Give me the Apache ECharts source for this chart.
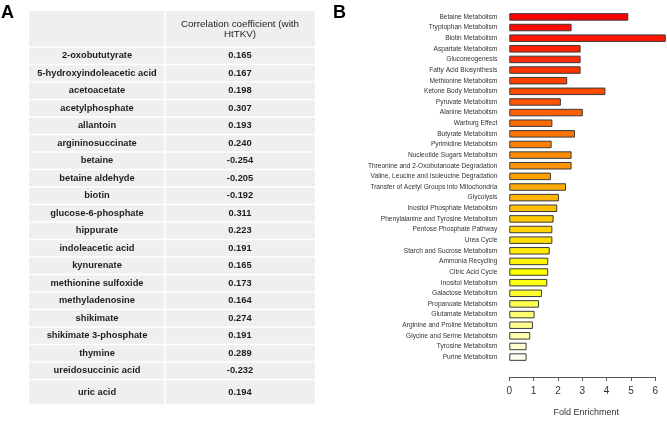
<!DOCTYPE html>
<html>
<head>
<meta charset="utf-8">
<script src="https://cdn.jsdelivr.net/npm/echarts@6/dist/echarts.min.js"></script>
<style>
  html, body { margin: 0; padding: 0; background: #fff; }
  #chart { width: 667px; height: 422px; }
</style>
</head>
<body>
<div id="chart"></div>
<script>
// panel A: metabolites and their correlation with HtTKV
const metabolites = [
  '2-oxobututyrate', '5-hydroxyindoleacetic acid', 'acetoacetate', 'acetylphosphate',
  'allantoin', 'argininosuccinate', 'betaine', 'betaine aldehyde', 'biotin',
  'glucose-6-phosphate', 'hippurate', 'indoleacetic acid', 'kynurenate',
  'methionine sulfoxide', 'methyladenosine', 'shikimate', 'shikimate 3-phosphate',
  'thymine', 'ureidosuccinic acid', 'uric acid'
];
const correlations = [
  '0.165', '0.167', '0.198', '0.307', '0.193', '0.240', '-0.254', '-0.205', '-0.192',
  '0.311', '0.223', '0.191', '0.165', '0.173', '0.164', '0.274', '0.191', '0.289',
  '-0.232', '0.194'
];
const headerLines = ['Correlation coefficient (with', 'HtTKV)'];

// panel B: pathway enrichment
const pathways = [
  'Betaine Metabolism', 'Tryptophan Metabolism', 'Biotin Metabolism', 'Aspartate Metabolism',
  'Gluconeogenesis', 'Fatty Acid Biosynthesis', 'Methionine Metabolism', 'Ketone Body Metabolism',
  'Pyruvate Metabolism', 'Alanine Metabolism', 'Warburg Effect', 'Butyrate Metabolism',
  'Pyrimidine Metabolism', 'Nucleotide Sugars Metabolism', 'Threonine and 2-Oxobutanoate Degradation',
  'Valine, Leucine and Isoleucine Degradation', 'Transfer of Acetyl Groups into Mitochondria',
  'Glycolysis', 'Inositol Phosphate Metabolism', 'Phenylalanine and Tyrosine Metabolism',
  'Pentose Phosphate Pathway', 'Urea Cycle', 'Starch and Sucrose Metabolism', 'Ammonia Recycling',
  'Citric Acid Cycle', 'Inositol Metabolism', 'Galactose Metabolism', 'Propanoate Metabolism',
  'Glutamate Metabolism', 'Arginine and Proline Metabolism', 'Glycine and Serine Metabolism',
  'Tyrosine Metabolism', 'Purine Metabolism'
];
const foldEnrichment = [
  4.89, 2.56, 6.43, 2.93, 2.93, 2.93, 2.38, 3.95, 2.12, 3.02, 1.77, 2.70,
  1.74, 2.56, 2.56, 1.71, 2.33, 2.04, 1.97, 1.82, 1.77, 1.77, 1.66, 1.60,
  1.60, 1.56, 1.34, 1.22, 1.04, 0.97, 0.86, 0.71, 0.71
];

const FONT = '"Liberation Sans", Arial, sans-serif';
const CELL = '#efefef';

// red -> yellow -> white ramp, same idea as R's heat.colors
function hsvHex(h, s, v) {
  const f = (n) => {
    const k = (n + h * 6) % 6;
    const c = v - v * s * Math.max(0, Math.min(k, 4 - k, 1));
    return Math.round(c * 255).toString(16).padStart(2, '0');
  };
  return '#' + f(5) + f(3) + f(1);
}
function heatColors(n) {
  const j = Math.floor(n / 4), i = n - j;
  const out = [];
  for (let k = 0; k < i; k++) out.push(hsvHex((1 / 6) * k / (i - 1), 1, 1));
  for (let k = 0; k < j; k++) {
    const s = (1 - 1 / (2 * j)) + ((1 / (2 * j)) - (1 - 1 / (2 * j))) * k / (j - 1);
    out.push(hsvHex(1 / 6, s, 1));
  }
  return out;
}
const barColors = heatColors(pathways.length);

const chart = echarts.init(document.getElementById('chart'), null, { renderer: 'canvas' });

function renderRow(params, api) {
  const cs = params.coordSys;
  const i = params.dataIndex;
  const yc = api.coord([0, i])[1];
  const h = api.size([0, 1])[1];
  let top = yc - h / 2;
  let rowH = h;
  if (i === metabolites.length - 1) rowH += 8;
  const divX = cs.x + 136;
  const right = cs.x + cs.width;
  const g = 0.75;
  const mid = top + rowH / 2;
  return {
    type: 'group',
    children: [
      { type: 'rect', shape: { x: cs.x, y: top + g, width: divX - cs.x - g, height: rowH - 2 * g }, style: { fill: CELL } },
      { type: 'rect', shape: { x: divX + g, y: top + g, width: right - divX - g, height: rowH - 2 * g }, style: { fill: CELL } },
      { type: 'text', x: (cs.x + divX) / 2, y: mid, style: { text: metabolites[i], fill: '#1e1e1e', font: 'bold 9.3px ' + FONT, align: 'center', verticalAlign: 'middle' } },
      { type: 'text', x: (divX + right) / 2, y: mid, style: { text: correlations[i], fill: '#1e1e1e', font: 'bold 9.3px ' + FONT, align: 'center', verticalAlign: 'middle' } }
    ]
  };
}

const option = {
  backgroundColor: '#fff',
  animation: false,
  textStyle: { fontFamily: FONT },
  graphic: [
    { type: 'text', left: 1, top: 4, style: { text: 'A', font: 'bold 18px ' + FONT, fill: '#000' } },
    { type: 'text', left: 333, top: 4, style: { text: 'B', font: 'bold 18px ' + FONT, fill: '#000' } },
    { type: 'rect', shape: { x: 29, y: 11, width: 135.25, height: 35.25 }, style: { fill: CELL } },
    { type: 'rect', shape: { x: 165.75, y: 11, width: 149.25, height: 35.25 }, style: { fill: CELL } },
    { type: 'text', x: 240, y: 24.3, style: { text: headerLines[0], font: '9.8px ' + FONT, fill: '#1e1e1e', align: 'center', verticalAlign: 'middle' } },
    { type: 'text', x: 240, y: 34.5, style: { text: headerLines[1], font: '9.8px ' + FONT, fill: '#1e1e1e', align: 'center', verticalAlign: 'middle' } }
  ],
  grid: [
    { left: 29, top: 47, width: 286, height: metabolites.length * 17.5 },
    { left: 509.3, top: 11.6, width: 146, height: 354.8 }
  ],
  xAxis: [
    { gridIndex: 0, type: 'value', min: 0, max: 1, show: false },
    {
      gridIndex: 1, type: 'value', min: 0, max: 6, interval: 1, offset: 14.6,
      axisLine: { show: true, lineStyle: { color: '#555', width: 1 } },
      axisTick: { show: true, length: 4, lineStyle: { color: '#555' } },
      splitLine: { show: false },
      axisLabel: { fontSize: 10, color: '#333', margin: 9 },
      name: 'Fold Enrichment', nameLocation: 'middle', nameGap: 31,
      nameTextStyle: { fontSize: 9, color: '#333', padding: [0, 0, 0, 8] }
    }
  ],
  yAxis: [
    { gridIndex: 0, type: 'category', data: metabolites, inverse: true, show: false },
    {
      gridIndex: 1, type: 'category', data: pathways, inverse: true,
      axisLine: { show: false }, axisTick: { show: false },
      axisLabel: { fontSize: 6.6, color: '#333', margin: 12, interval: 0 }
    }
  ],
  series: [
    {
      type: 'custom', xAxisIndex: 0, yAxisIndex: 0,
      data: metabolites.map((m, i) => [m, correlations[i]]),
      encode: { y: 0 },
      renderItem: renderRow
    },
    {
      type: 'bar', xAxisIndex: 1, yAxisIndex: 1, clip: false,
      barWidth: 7.5,
      data: foldEnrichment.map((v, i) => ({
        value: v,
        itemStyle: { color: barColors[i], borderColor: '#3a3a3a', borderWidth: 1 }
      }))
    }
  ]
};

chart.setOption(option);
</script>
</body>
</html>
